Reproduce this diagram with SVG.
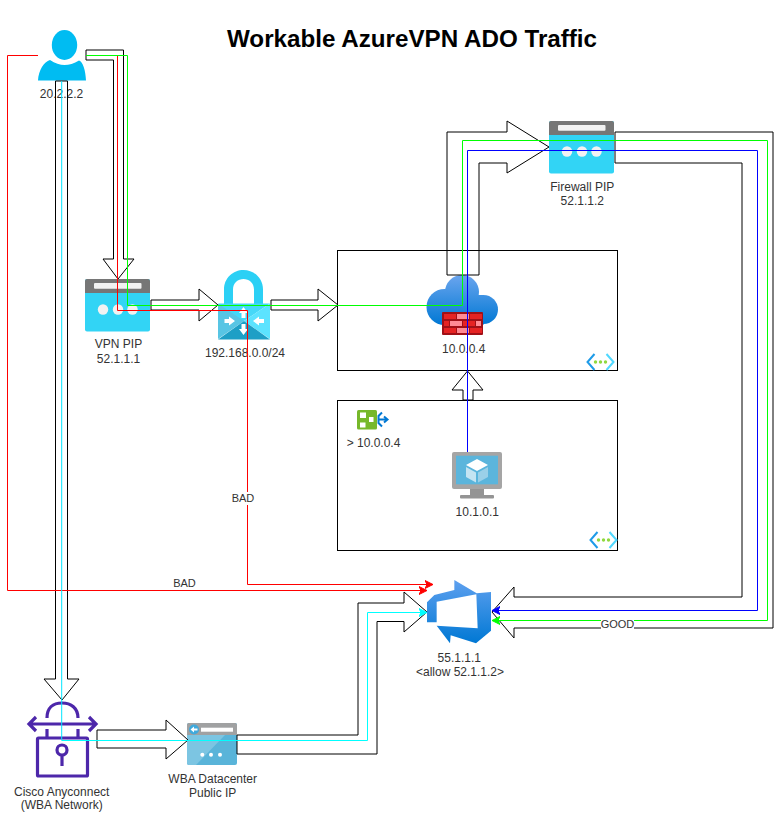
<svg xmlns="http://www.w3.org/2000/svg" width="776" height="815" viewBox="0 0 776 815">
<style>
text{font-family:"Liberation Sans",Arial,sans-serif;font-size:12px;fill:#333;text-anchor:middle}
.title{font-size:24.200px;font-weight:bold;fill:#000}
.small{font-size:11px}
.box{fill:none;stroke:#000;stroke-width:1}
.flex{fill:none;stroke:#000;stroke-width:1;stroke-linejoin:miter}
.ln{fill:none;stroke-width:1}
.pb{fill:#32D4F5}.pt{fill:#767676}.pw{fill:#f2f2f2}
.cis{fill:none;stroke:#4D27AA;stroke-width:3.200}
.vn{fill:none;stroke:#1E9BE8;stroke-width:2}
.vd{fill:#8FD93F}
.wa{fill:#fff}
</style>
<defs>
<marker id="mr" markerUnits="userSpaceOnUse" markerWidth="10" markerHeight="10" refX="8" refY="5" orient="auto"><path d="M0 1 L8 5 L0 9 L2 5 Z" fill="#f00" stroke="#f00"/></marker>
<marker id="mg" markerUnits="userSpaceOnUse" markerWidth="10" markerHeight="10" refX="8" refY="5" orient="auto"><path d="M0 1 L8 5 L0 9 L2 5 Z" fill="#0f0" stroke="#0f0"/></marker>
<marker id="mb" markerUnits="userSpaceOnUse" markerWidth="10" markerHeight="10" refX="8" refY="5" orient="auto"><path d="M0 1 L8 5 L0 9 L2 5 Z" fill="#00f" stroke="#00f"/></marker>
<marker id="mc" markerUnits="userSpaceOnUse" markerWidth="10" markerHeight="10" refX="8" refY="5" orient="auto"><path d="M0 1 L8 5 L0 9 L2 5 Z" fill="#0ff" stroke="#0ff"/></marker>
<linearGradient id="gc" gradientUnits="userSpaceOnUse" x1="0" y1="275" x2="0" y2="325"><stop offset="0" stop-color="#6BA5EE"/><stop offset="1" stop-color="#0078D4"/></linearGradient>
<linearGradient id="gd" x1="0" y1="0" x2="0" y2="1"><stop offset="0" stop-color="#5EA0EF"/><stop offset="1" stop-color="#0078D4"/></linearGradient>
<g id="pip">
<rect x="0" y="0" width="65" height="52.500" rx="2" class="pb"/>
<path d="M0 14V2a2 2 0 0 1 2-2H63a2 2 0 0 1 2 2V14Z" class="pt"/>
<rect x="9" y="4" width="47.500" height="5.800" rx="1" class="pw"/>
<circle cx="18" cy="30.500" r="5.200" class="pw"/><circle cx="33" cy="30.500" r="5.200" class="pw"/><circle cx="47.500" cy="30.500" r="5.200" class="pw"/>
</g>
<g id="vnet">
<path class="vn" d="M-6 -8 L-13 0 L-6 8"/><path d="M6 -8 L13 0 L6 8" fill="none" stroke="#50D8FF" stroke-width="2"/>
<circle cx="-5" cy="0" r="1.700" class="vd"/><circle cx="0" cy="0" r="1.700" class="vd"/><circle cx="5" cy="0" r="1.700" class="vd"/>
</g>
</defs>
<rect width="776" height="815" fill="#fff"/>
<text class="title" x="412" y="47">Workable AzureVPN ADO Traffic</text>

<g id="vnet-firewall">
<rect class="box" x="337.500" y="250.500" width="280" height="120"/>
<use href="#vnet" x="600.500" y="362"/>
</g>
<g id="vnet-vm">
<rect class="box" x="337.500" y="400.500" width="280" height="150"/>
<use href="#vnet" x="603.500" y="540"/>
</g>

<g id="user">
<ellipse cx="64.500" cy="45" rx="12.700" ry="15" fill="#00BCF2"/>
<path d="M38 80.500C38.500 70 44 62 50 60C55 63.500 60 65 64.500 65C69 65 74 63.500 79 60.500C83 62 85.500 70 86 80.500Z" fill="#00BCF2"/>
<text x="61.500" y="98">20.2.2.2</text>
</g>

<g id="vpn-pip">
<use href="#pip" x="85" y="279"/>
<text x="118.500" y="348">VPN PIP</text>
<text x="118.500" y="363">52.1.1.1</text>
</g>

<g id="vpn-gateway">
<path d="M224 304V289.500C224 278 233 270 243.500 270C254 270 263 278 263 289.500V304H254V289.500C254 283 249 279 243.500 279C238 279 233 283 233 289.500V304Z" fill="#2BD0F5"/>
<path d="M218 304H244L244 321L218 339Z" fill="#58C5E4"/>
<path d="M218 303.500H270L244 321Z" fill="#45D8F8"/>
<path d="M270 303.500V339L244 321Z" fill="#5CE3FF"/>
<path d="M218 339.500H270L244 321Z" fill="#1E9FC6"/>
<path class="wa" d="M243.500 307L248 313H245.500V318H241.500V313H239Z"/>
<path class="wa" d="M243.500 335L248 329H245.500V324H241.500V329H239Z"/>
<path class="wa" d="M235 321L229 316.500V319H224.500V323H229V325.500Z"/>
<path class="wa" d="M253 321L259 316.500V319H264V323H259V325.500Z"/>
<text x="245" y="357">192.168.0.0/24</text>
</g>

<g id="firewall">
<g fill="url(#gc)">
<circle cx="444.500" cy="307" r="18"/>
<circle cx="462" cy="292" r="17"/>
<circle cx="483.500" cy="309.500" r="14.500"/>
<rect x="444" y="295" width="40" height="29.500"/>
</g>
<rect x="442" y="312" width="41" height="23" rx="1" fill="#A01017"/>
<g fill="#E62323">
<rect x="444" y="314" width="12" height="5"/><rect x="470" y="314" width="12" height="5"/>
<rect x="444" y="321" width="5" height="5"/><rect x="463" y="321" width="12" height="5"/>
<rect x="444" y="328" width="12" height="5"/><rect x="470" y="328" width="12" height="5"/>
</g>
<g fill="#FF8A94">
<rect x="457" y="314" width="12" height="5"/><rect x="450" y="321" width="12" height="5"/><rect x="476" y="321" width="5" height="5"/><rect x="457" y="328" width="12" height="5"/>
</g>
<text x="463.700" y="353">10.0.0.4</text>
</g>

<g id="firewall-pip">
<use href="#pip" x="549" y="121"/>
<text x="582.300" y="191">Firewall PIP</text>
<text x="582.300" y="205">52.1.1.2</text>
</g>

<g id="route-table">
<rect x="357" y="410" width="20" height="19.500" rx="1.500" fill="#76B82A"/>
<rect class="wa" x="360" y="412.500" width="6" height="5.500"/><rect class="wa" x="369" y="417" width="4.500" height="5"/><rect class="wa" x="360" y="422.500" width="5.500" height="5"/>
<path d="M378 419.500H387M382 412.500L378.500 416V423L382 426.500M384 416.500L387.500 419.500L384 422.500" fill="none" stroke="#0078D4" stroke-width="2"/>
<text x="373.500" y="447">&gt; 10.0.0.4</text>
</g>

<g id="vm">
<rect x="470" y="488" width="14" height="7" fill="#949494"/>
<rect x="460" y="495" width="34" height="3.500" rx="1" fill="#949494"/>
<rect x="452" y="452" width="50" height="37" rx="2" fill="#A5A5A5"/>
<rect x="456" y="455.700" width="42" height="28.600" fill="#5BB5DC"/>
<path d="M477 459L488 465L477 471L466 465Z" fill="#fff"/>
<path d="M466 467L476 472.500V482.500L466 477Z" fill="#C4E4F2"/>
<path d="M488 467L478 472.500V482.500L488 477Z" fill="#9AD0E8"/>
<text x="477.300" y="516">10.1.0.1</text>
</g>

<g id="devops">
<g transform="translate(340 560) scale(.33333)">
<path fill="url(#gd)" d="M343 60L410 100L453 96V212L408 250L332 226L330 250L290 197L413 205L409 103L290 125V187H261V127L283 105L343 90Z"/>
</g>
<text x="459.300" y="662">55.1.1.1</text>
<text x="460" y="676">&lt;allow 52.1.1.2&gt;</text>
</g>

<g id="cisco">
<rect class="cis" x="37.500" y="738" width="50" height="38" rx="1"/>
<path class="cis" d="M47 718C47 708 53 703 62 703C71 703 78 708 78 718"/>
<path class="cis" d="M47 729V738M78 729V738"/>
<path class="cis" d="M29.500 724H95M36 717L29 724L36 731M89 717L96 724L89 731"/>
<circle class="cis" cx="62" cy="750" r="5"/>
<path class="cis" d="M62 755V766"/>
<text x="61.700" y="796">Cisco Anyconnect</text>
<text x="61.700" y="809">(WBA Network)</text>
</g>

<g id="wba-ip">
<rect x="187" y="723" width="50" height="42" rx="2" fill="#59B4D9"/>
<path d="M187 735H225L196 765H189a2 2 0 0 1-2-2Z" fill="#7CC5E2"/>
<path d="M187 735V725a2 2 0 0 1 2-2H235a2 2 0 0 1 2 2V735Z" fill="#A0A1A2"/>
<circle cx="194" cy="729.500" r="5" fill="#3FA9DC"/>
<path d="M190.500 729.500L194 726.500V728.500H197.500V730.500H194V732.500Z" fill="#fff"/>
<rect x="201" y="727.700" width="32" height="4" fill="#fff"/>
<circle cx="202.300" cy="754.700" r="2" fill="#fff"/><circle cx="211" cy="754.700" r="2" fill="#fff"/><circle cx="220" cy="754.700" r="2" fill="#fff"/>
<text x="212.700" y="783">WBA Datacenter</text>
<text x="212.700" y="797">Public IP</text>
</g>

<g id="connectors">
<path class="flex" d="M86 50H123.500V259H134L118 279L103 259H113.500V60H86Z"/>
<path class="flex" d="M55.500 81H67.500V679H79L62 700L44 679H55.500Z"/>
<path class="flex" d="M151 300H199V289L218 305L199 321V310H151Z"/>
<path class="flex" d="M271 300H318V289L338 305L318 321V310H271Z"/>
<path class="flex" d="M447 275V132H507V121L549 147L507 173V163H479V275Z"/>
<path class="flex" d="M615 132H773V628H514V638L492 612L514 587V597H742V163H615Z"/>
<path class="flex" d="M463 400V390H452L467.500 371L483 390H473V400Z"/>
<path class="flex" d="M97 730H166V720L188 740L166 759V748H97Z"/>
<path class="flex" d="M237 735H358V603H404V592L427 612L404 632V621.500H377V754H237Z"/>
<path class="ln" stroke="#f00" d="M38 55.500H7.500V590.500H427" marker-end="url(#mr)"/>
<path class="ln" stroke="#f00" d="M86 55.500H117.500V310.500H247.500V584.500H433" marker-end="url(#mr)"/>
<path class="ln" stroke="#0f0" d="M86 55.500H127.500V305.500H462.500V140.500H767.500V620.500H492" marker-end="url(#mg)"/>
<path class="ln" stroke="#00f" d="M467.500 452V150.500H757.500V610.500H492" marker-end="url(#mb)"/>
<path class="ln" stroke="#00e5ff" stroke-width="1.400" d="M61.700 81V740.500"/>
<path class="ln" stroke="#0ff" d="M61.700 740.500H367.500V612.500H427" marker-end="url(#mc)"/>
<rect x="232" y="492" width="22" height="13" fill="#fff"/>
<text class="small" x="243" y="502">BAD</text>
<text class="small" x="184.500" y="587">BAD</text>
<rect x="601" y="618" width="33" height="13" fill="#fff"/>
<text class="small" x="617.500" y="628">GOOD</text>
</g>
</svg>
